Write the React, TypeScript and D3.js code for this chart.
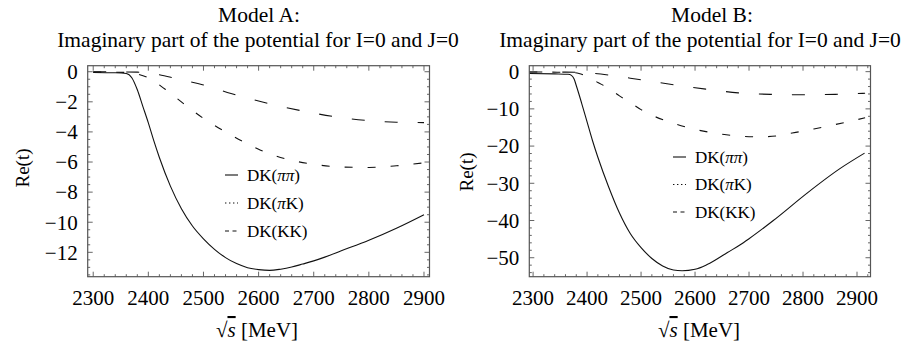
import React, { useEffect, useRef } from 'react';
import * as d3 from 'd3';

// ---- Model A (left panel) ----
const aPiPiX = [2300, 2340, 2360, 2370, 2380, 2390, 2400, 2410, 2420, 2440, 2460, 2480, 2500, 2520, 2540, 2560, 2580, 2600, 2620, 2640, 2660, 2680, 2700, 2720, 2750, 2800, 2850, 2900];
const aPiPiY = [-0.05, -0.07, -0.12, -0.4, -1.2, -2.3, -3.4, -4.6, -5.7, -7.6, -9.1, -10.25, -11.1, -11.8, -12.35, -12.75, -13.02, -13.15, -13.2, -13.12, -12.98, -12.78, -12.57, -12.32, -11.9, -11.2, -10.4, -9.5];
const aPiKX = [2300, 2340, 2380, 2400, 2420, 2450, 2500, 2550, 2600, 2650, 2700, 2750, 2800, 2850, 2900];
const aPiKY = [0, -0.01, -0.03, -0.08, -0.2, -0.45, -0.88, -1.45, -1.95, -2.38, -2.75, -3.05, -3.25, -3.36, -3.38];
const aKKX = [2300, 2360, 2380, 2400, 2430, 2465, 2500, 2540, 2575, 2600, 2650, 2700, 2750, 2800, 2850, 2900];
const aKKY = [-0.02, -0.05, -0.15, -0.4, -1.15, -2.15, -3.1, -4.0, -4.7, -5.15, -5.8, -6.15, -6.33, -6.36, -6.25, -6.05];

// ---- Model B (right panel) ----
const bPiPiX = [2293, 2340, 2365, 2371, 2376, 2381, 2390, 2400, 2410, 2420, 2440, 2460, 2480, 2500, 2520, 2540, 2560, 2576, 2600, 2620, 2640, 2660, 2683, 2700, 2745, 2807, 2869, 2914];
const bPiPiY = [-0.5, -0.6, -0.7, -1.0, -2, -4.2, -8.5, -13.5, -18.5, -23, -31, -38, -43.5, -47.3, -50.2, -52.2, -53.3, -53.5, -53.1, -52.0, -50.4, -48.6, -46.6, -44.9, -40.0, -32.7, -26.0, -21.9];
const bPiKX = [2293, 2380, 2400, 2440, 2500, 2560, 2620, 2680, 2740, 2800, 2860, 2915];
const bPiKY = [-0.1, -0.15, -0.3, -0.9, -2.2, -3.5, -4.7, -5.7, -6.1, -6.2, -6.1, -5.8];
const bKKX = [2293, 2370, 2385, 2400, 2420, 2440, 2460, 2480, 2500, 2520, 2550, 2600, 2640, 2680, 2720, 2750, 2780, 2820, 2860, 2900, 2915];
const bKKY = [-0.1, -0.2, -0.5, -1.3, -2.9, -4.5, -6.5, -8.3, -10.2, -11.7, -13.4, -15.5, -16.6, -17.3, -17.5, -17.3, -16.5, -15.4, -14.2, -12.9, -12.4];

const xTicks = [2300, 2400, 2500, 2600, 2700, 2800, 2900];
const yTicksA = [0, -2, -4, -6, -8, -10, -12];
const yTicksB = [0, -10, -20, -30, -40, -50];
const legendNames = ['DK(ππ)', 'DK(πK)', 'DK(KK)'];
const legendDash = ['', '1.4,2.6', '4,3.5'];

const FONT = '"Liberation Serif", "Times New Roman", serif';

interface Panel {
  model: string;
  left: number; right: number; top: number; bottom: number;
  xDomain: [number, number];
  yDomain: [number, number];
  yTicks: number[];
  yMinor: number;
  series: { xs: number[]; ys: number[]; dash: string }[];
  titleX: number; modelX: number; xLabelX: number;
  yLabelX: number; yLabelY: number;
  legendX: number; legendY: number; legendGap: number;
}

const panels: Panel[] = [
  {
    model: 'Model A:',
    left: 87.7, right: 429.5, top: 65.7, bottom: 276.7,
    xDomain: [2290, 2910], yDomain: [-13.62, 0.4],
    yTicks: yTicksA, yMinor: 0.5,
    series: [
      { xs: aPiPiX, ys: aPiPiY, dash: '' },
      { xs: aPiKX, ys: aPiKY, dash: '13,20' },
      { xs: aKKX, ys: aKKY, dash: '8,15' },
    ],
    titleX: 258, modelX: 259, xLabelX: 257,
    yLabelX: 22, yLabelY: 168,
    legendX: 225, legendY: 175, legendGap: 28,
  },
  {
    model: 'Model B:',
    left: 529.3, right: 870.5, top: 65.7, bottom: 276.7,
    xDomain: [2293, 2925], yDomain: [-55.1, 1.6],
    yTicks: yTicksB, yMinor: 2,
    series: [
      { xs: bPiPiX, ys: bPiPiY, dash: '' },
      { xs: bPiKX, ys: bPiKY, dash: '13,20' },
      { xs: bKKX, ys: bKKY, dash: '8,15' },
    ],
    titleX: 700, modelX: 712, xLabelX: 699,
    yLabelX: 466, yLabelY: 172,
    legendX: 673, legendY: 157, legendGap: 27.5,
  },
];

const fmt = (v: number) => (v < 0 ? '\u2212' + Math.abs(v) : String(v));

const App: React.FC = () => {
  const ref = useRef<SVGSVGElement>(null);

  useEffect(() => {
    const svg = d3.select(ref.current);
    svg.selectAll('*').remove();
    svg.append('rect').attr('width', 905).attr('height', 352).attr('fill', '#fff');

    panels.forEach((p) => {
      const g = svg.append('g');
      const x = d3.scaleLinear().domain(p.xDomain).range([p.left, p.right]);
      const y = d3.scaleLinear().domain(p.yDomain).range([p.bottom, p.top]);

      // titles
      g.append('text').attr('x', p.modelX).attr('y', 22).attr('text-anchor', 'middle')
        .attr('font-size', 21.5).attr('font-family', FONT).text(p.model);
      g.append('text').attr('x', p.titleX).attr('y', 47).attr('text-anchor', 'middle')
        .attr('font-size', 21.5).attr('font-family', FONT)
        .text('Imaginary part of the potential for I=0 and J=0');

      // curves
      const line = (xs: number[], ys: number[]) =>
        d3.line<number>().x((_, i) => x(xs[i])).y((d) => y(d)).curve(d3.curveMonotoneX)(ys);
      p.series.forEach((s) => {
        g.append('path').attr('d', line(s.xs, s.ys) || '')
          .attr('fill', 'none').attr('stroke', '#111').attr('stroke-width', 1.1)
          .attr('stroke-dasharray', s.dash || null);
      });

      // frame + ticks on all four sides, pointing in
      const tickCol = '#555';
      const minorX = d3.range(p.xDomain[0] - (p.xDomain[0] % 20) + 20, p.xDomain[1], 20)
        .filter((v) => v % 100 !== 0);
      const yMin = Math.ceil(p.yDomain[0] / p.yMinor) * p.yMinor;
      const minorY = d3.range(yMin, p.yDomain[1] + 1e-9, p.yMinor)
        .filter((v) => !p.yTicks.some((t) => Math.abs(t - v) < 1e-9));
      const ticks: [number, number, number, number][] = [];
      xTicks.forEach((v) => {
        ticks.push([x(v), p.bottom, x(v), p.bottom - 5]);
        ticks.push([x(v), p.top, x(v), p.top + 5]);
      });
      minorX.forEach((v) => {
        ticks.push([x(v), p.bottom, x(v), p.bottom - 2.5]);
        ticks.push([x(v), p.top, x(v), p.top + 2.5]);
      });
      p.yTicks.forEach((v) => {
        ticks.push([p.left, y(v), p.left + 5, y(v)]);
        ticks.push([p.right, y(v), p.right - 5, y(v)]);
      });
      minorY.forEach((v) => {
        ticks.push([p.left, y(v), p.left + 2.5, y(v)]);
        ticks.push([p.right, y(v), p.right - 2.5, y(v)]);
      });
      g.selectAll('line.tick').data(ticks).enter().append('line')
        .attr('x1', (d) => d[0]).attr('y1', (d) => d[1]).attr('x2', (d) => d[2]).attr('y2', (d) => d[3])
        .attr('stroke', tickCol).attr('stroke-width', 0.9);
      g.append('rect').attr('x', p.left).attr('y', p.top)
        .attr('width', p.right - p.left).attr('height', p.bottom - p.top)
        .attr('fill', 'none').attr('stroke', tickCol).attr('stroke-width', 1.2);

      // tick labels
      g.selectAll('text.xl').data(xTicks).enter().append('text')
        .attr('x', (d) => x(d)).attr('y', 305).attr('text-anchor', 'middle')
        .attr('font-size', 21).attr('font-family', FONT).text((d) => String(d));
      g.selectAll('text.yl').data(p.yTicks).enter().append('text')
        .attr('x', p.left - 10).attr('y', (d) => y(d)).attr('dy', '0.35em').attr('text-anchor', 'end')
        .attr('font-size', 21).attr('font-family', FONT).text((d) => fmt(d));

      // axis labels
      g.append('text')
        .attr('transform', `translate(${p.yLabelX},${p.yLabelY}) rotate(-90)`)
        .attr('dy', '0.35em').attr('text-anchor', 'middle')
        .attr('font-size', 19).attr('font-family', FONT).text('Re(t)');
      const xl = g.append('text').attr('x', p.xLabelX).attr('y', 337).attr('text-anchor', 'middle')
        .attr('font-size', 21).attr('font-family', FONT);
      xl.append('tspan').text('\u221A');
      xl.append('tspan').attr('font-style', 'italic').style('text-decoration', 'overline').text('s');
      xl.append('tspan').text(' [MeV]');

      // legend
      legendNames.forEach((name, i) => {
        const ly = p.legendY + i * p.legendGap;
        g.append('line').attr('x1', p.legendX).attr('x2', p.legendX + 13).attr('y1', ly).attr('y2', ly)
          .attr('stroke', '#111').attr('stroke-width', 1.1)
          .attr('stroke-dasharray', legendDash[i] || null);
        const t = g.append('text').attr('x', p.legendX + 22).attr('y', ly).attr('dy', '0.35em')
          .attr('font-size', 17).attr('font-family', FONT);
        name.split(/(π)/).filter((s) => s.length).forEach((part) => {
          const ts = t.append('tspan').text(part);
          if (part === 'π') ts.attr('font-style', 'italic');
        });
      });
    });
  }, []);

  return (
    <svg ref={ref} width={905} height={352}
      style={{ position: 'absolute', left: 0, top: 0, background: '#fff' }} />
  );
};

export default App;
